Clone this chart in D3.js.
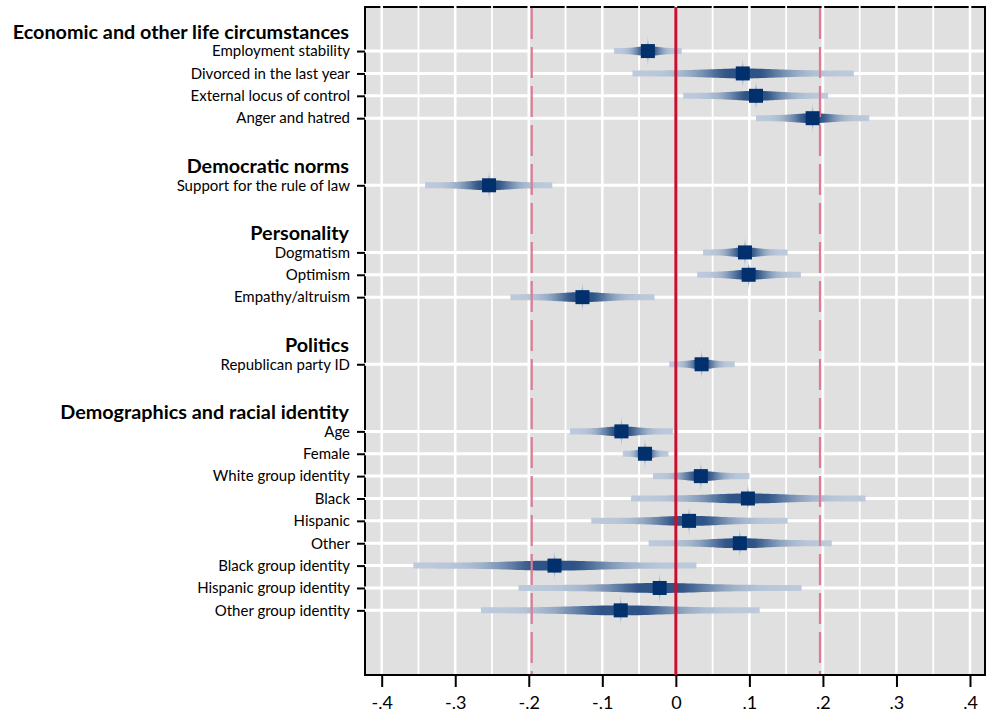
<!DOCTYPE html>
<meta charset="utf-8">
<script src="https://d3js.org/d3.v7.min.js"></script>
<style>
  body { margin: 0; background: #fff; }
  text { font-family: Lato, "Open Sans", sans-serif; fill: #000; }
</style>
<body>
<div id="chart"></div>
<script>
    // groups and their rows, top to bottom
    const groups = ["Economic and other life circumstances", "Democratic norms", "Personality", "Politics", "Demographics and racial identity"];
    const labels = ["Employment stability", "Divorced in the last year", "External locus of control", "Anger and hatred",
        "Support for the rule of law",
        "Dogmatism", "Optimism", "Empathy/altruism",
        "Republican party ID",
        "Age", "Female", "White group identity", "Black", "Hispanic", "Other", "Black group identity", "Hispanic group identity", "Other group identity"];
    const groupOf = [0, 0, 0, 0, 1, 2, 2, 2, 3, 4, 4, 4, 4, 4, 4, 4, 4, 4];
    const estimates = [-0.038, 0.091, 0.109, 0.186, -0.254, 0.094, 0.099, -0.127, 0.035, -0.074, -0.042, 0.034, 0.098, 0.018, 0.087, -0.165, -0.022, -0.075];
    const lower = [-0.084, -0.059, 0.010, 0.109, -0.341, 0.037, 0.029, -0.225, -0.009, -0.144, -0.072, -0.031, -0.061, -0.115, -0.037, -0.357, -0.214, -0.265];
    const upper = [0.008, 0.242, 0.207, 0.263, -0.168, 0.152, 0.170, -0.029, 0.080, -0.004, -0.010, 0.100, 0.258, 0.152, 0.212, 0.028, 0.171, 0.114];
    const xTicks = [-0.4, -0.3, -0.2, -0.1, 0, 0.1, 0.2, 0.3, 0.4];
    const xTickLabels = ["-.4", "-.3", "-.2", "-.1", "0", ".1", ".2", ".3", ".4"];
    const minorTicks = [-0.35, -0.25, -0.15, -0.05, 0.05, 0.15, 0.25, 0.35];
    const refLines = [-0.196, 0.196];

    const width = 987, height = 721;
    const margin = {top: 7, right: 2, bottom: 46, left: 365};

    // slot layout: header, its rows, one blank slot
    let headerSlots = [], rowSlots = [];
    let s = 0;
    groups.forEach(function (g, gi) {
        headerSlots.push(s);
        labels.forEach(function (l, i) {
            if (groupOf[i] === gi) { s += 1; rowSlots[i] = s; }
        });
        s += 2;
    });

    const rows = labels.map(function (l, i) {
        return {label: l, est: estimates[i], lo: lower[i], hi: upper[i], slot: rowSlots[i], i: i};
    });

    const svg = d3.select("#chart").append("svg")
        .attr("width", width)
        .attr("height", height);

    const x = d3.scaleLinear()
        .domain([-0.4227, 0.4204])
        .range([margin.left, width - margin.right]);
    const y = d3.scaleLinear()
        .domain([-0.97, 28.89])
        .range([margin.top, height - margin.bottom]);

    const x0 = margin.left, x1 = width - margin.right;
    const y0 = margin.top, y1 = height - margin.bottom;

    // panel
    svg.append("rect")
        .attr("x", x0).attr("y", y0)
        .attr("width", x1 - x0).attr("height", y1 - y0)
        .attr("fill", "#e0e0e0")
        .attr("stroke", "#000")
        .attr("stroke-width", 2);

    // grid
    svg.append("g").selectAll("line")
        .data(minorTicks).join("line")
        .attr("x1", d => x(d)).attr("x2", d => x(d))
        .attr("y1", y0 - 1).attr("y2", y1 - 1)
        .attr("stroke", "#fff").attr("stroke-width", 1.8);
    svg.append("g").selectAll("line")
        .data(xTicks).join("line")
        .attr("x1", d => x(d)).attr("x2", d => x(d))
        .attr("y1", y0 - 1).attr("y2", y1 - 1)
        .attr("stroke", "#fff").attr("stroke-width", 2.6);
    svg.append("g").selectAll("line")
        .data(rows).join("line")
        .attr("x1", x0 - 1).attr("x2", x1 - 1)
        .attr("y1", d => y(d.slot)).attr("y2", d => y(d.slot))
        .attr("stroke", "#fff").attr("stroke-width", 3);

    // axes
    const xAxis = svg.append("g")
        .attr("transform", "translate(0," + y1 + ")")
        .call(d3.axisBottom(x).tickValues(xTicks).tickSize(12).tickPadding(9)
            .tickFormat((d, i) => xTickLabels[i]));
    xAxis.select(".domain").remove();
    xAxis.selectAll("line").attr("stroke", "#000").attr("stroke-width", 2);
    xAxis.selectAll("text").style("font-size", "18px").attr("font-family", "Lato, sans-serif");

    const yAxis = svg.append("g")
        .attr("transform", "translate(" + x0 + ",0)")
        .call(d3.axisLeft(d3.scaleOrdinal().domain(labels).range(rows.map(d => y(d.slot))))
            .tickSize(8).tickPadding(7));
    yAxis.select(".domain").remove();
    yAxis.selectAll("line").attr("stroke", "#000").attr("stroke-width", 2);
    yAxis.selectAll("text").style("font-size", "15px").attr("font-family", "Lato, sans-serif");

    svg.append("g").selectAll("text")
        .data(groups).join("text")
        .attr("x", 349)
        .attr("y", (d, i) => y(headerSlots[i]) + 3)
        .attr("dy", "0.35em")
        .attr("text-anchor", "end")
        .style("font-size", "19.8px")
        .style("font-weight", "bold")
        .text(d => d);

    // gradient intervals
    const light = "#bccadb", dark = "#2e5386";
    const dens = z => Math.exp(-z * z / (2 * 0.55 * 0.55));
    const zs = d3.range(0, 61).map(k => -1.96 + 3.92 * k / 60);
    const defs = svg.append("defs");
    rows.forEach(function (d) {
        const grad = defs.append("linearGradient")
            .attr("id", "ci" + d.i)
            .attr("gradientUnits", "userSpaceOnUse")
            .attr("x1", x(d.lo)).attr("x2", x(d.hi))
            .attr("y1", 0).attr("y2", 0);
        zs.forEach(function (z, k) {
            grad.append("stop")
                .attr("offset", k / 60)
                .attr("stop-color", d3.interpolateRgb(light, dark)(Math.min(1, dens(z) * 1.15)));
        });
    });

    // vertical spikes behind the bars
    svg.append("g").selectAll("path")
        .data(rows).join("path")
        .attr("d", function (d) {
            const cx = x(d.est), cy = y(d.slot);
            return "M" + cx + "," + (cy - 15) +
                "Q" + cx + "," + (cy - 5) + " " + (cx + 4.5) + "," + cy +
                "Q" + cx + "," + (cy + 5) + " " + cx + "," + (cy + 15) +
                "Q" + cx + "," + (cy + 5) + " " + (cx - 4.5) + "," + cy +
                "Q" + cx + "," + (cy - 5) + " " + cx + "," + (cy - 15) + "Z";
        })
        .attr("fill", "#a6b9d2");

    svg.append("g").selectAll("path")
        .data(rows).join("path")
        .attr("d", function (d) {
            const se = (d.hi - d.lo) / 3.92;
            const mid = (d.hi + d.lo) / 2;
            const cy = y(d.slot);
            return d3.area()
                .x(z => x(mid + z * se))
                .y0(z => cy - 3 - 2 * dens(z))
                .y1(z => cy + 3 + 2 * dens(z))(zs);
        })
        .attr("fill", d => "url(#ci" + d.i + ")");

    // reference lines
    svg.append("g").selectAll("line")
        .data(refLines).join("line")
        .attr("x1", d => x(d)).attr("x2", d => x(d))
        .attr("y1", y0 + 1).attr("y2", y1 - 1)
        .attr("stroke", "#dc7b93")
        .attr("stroke-width", 2.2)
        .attr("stroke-dasharray", "31,8");
    svg.append("line")
        .attr("x1", x(0)).attr("x2", x(0))
        .attr("y1", y0).attr("y2", y1)
        .attr("stroke", "#c8102e")
        .attr("stroke-width", 3);

    // point estimates
    svg.append("g").selectAll("rect")
        .data(rows).join("rect")
        .attr("x", d => x(d.est) - 7)
        .attr("y", d => y(d.slot) - 7)
        .attr("width", 14).attr("height", 14)
        .attr("fill", "#02306c");
</script>
</body>
